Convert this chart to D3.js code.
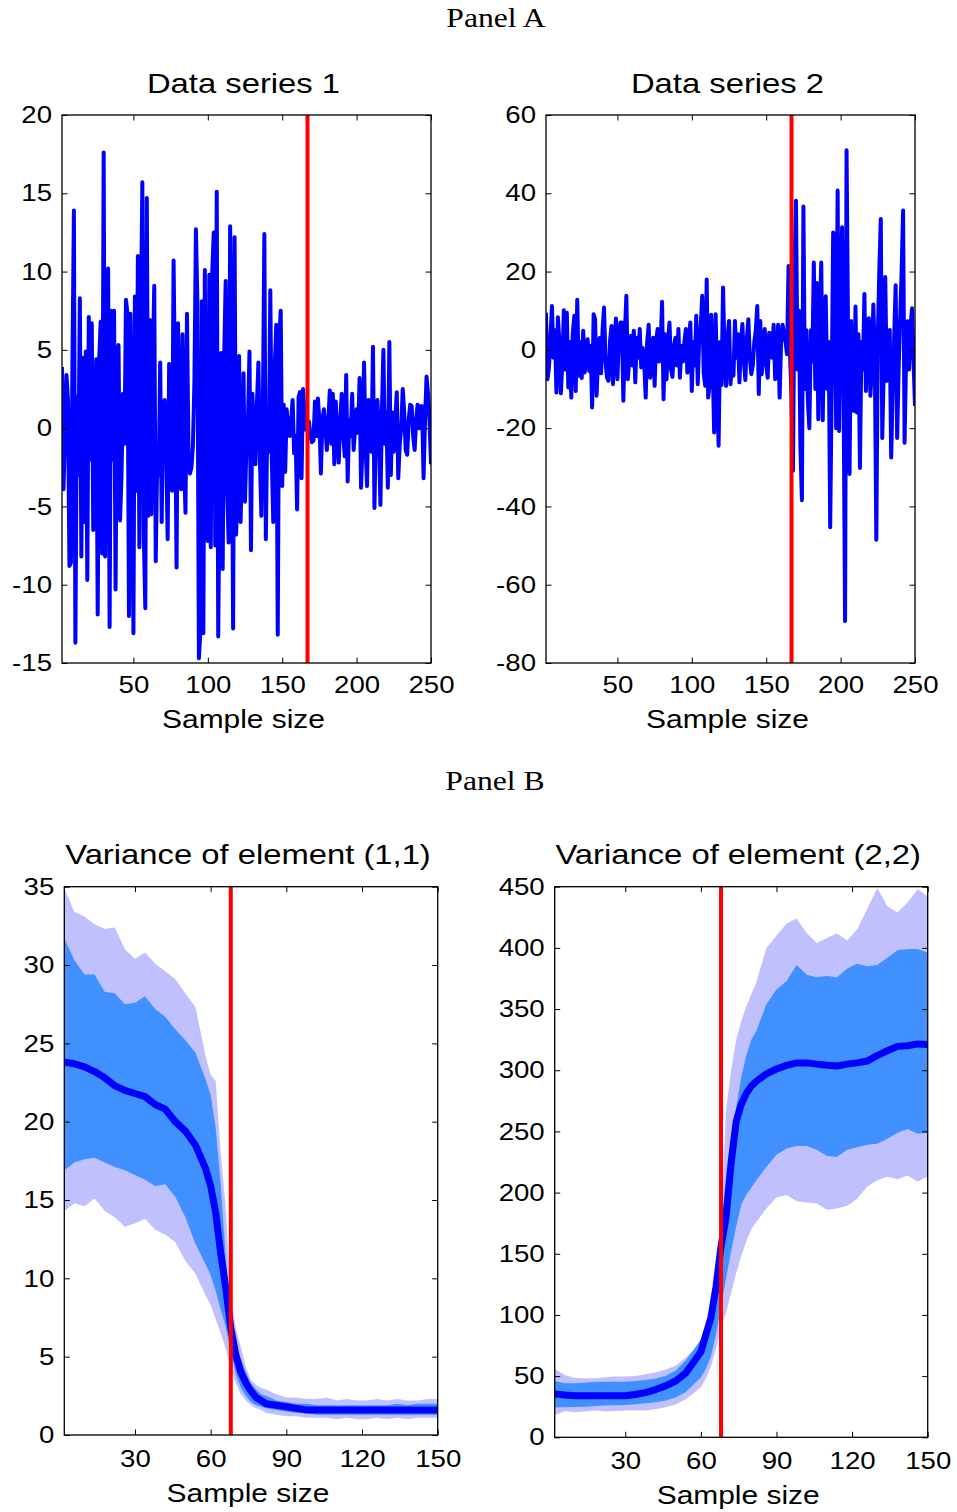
<!DOCTYPE html>
<html>
<head>
<meta charset="utf-8">
<script src="https://cdnjs.cloudflare.com/ajax/libs/d3/7.8.5/d3.min.js"></script>
<style>
  body { margin: 0; background: #fff; }
  text { font-family: "Liberation Sans", Arial, Helvetica, sans-serif; fill: #000; }
</style>
</head>
<body>
<div id="chart-area"></div>
<script>

var width = 957,
    height = 1512;

// ---- DATA ----

// Panel A: samples 2..250
var sampleStart = 2;
var series1 = [
  3.9, -3.9, -0.5, 3.4, 1.8, -8.8, -8.6, 4.0, 13.9, -13.7,
  2.0, -3.0, 8.3, -8.2, 4.5, -6.0, 4.9, -9.7, 7.1, -2.0,
  6.7, -6.5, -1.5, 4.4, -11.9, 4.4, 6.8, -8.0, 17.6, -8.2,
  7.5, 10.2, -12.7, 7.5, -2.0, 7.5, -10.3, 5.0, 5.3, -5.9,
  -3.0, 2.2, -1.0, 8.2, 7.3, -12.0, 7.3, -1.0, -13.1, 8.4,
  -4.0, 11.0, -7.6, 6.7, 15.7, -7.0, -11.5, 14.7, -5.6, 6.9,
  -5.5, 4.0, 9.1, -8.5, -2.0, -3.0, 4.2, -6.0, 1.0, 1.8,
  -1.0, -7.1, 4.1, -3.0, -4.0, 10.7, 2.0, -8.9, 6.7, -1.0,
  -3.9, 6.0, -2.0, -5.4, 7.3, -1.5, -2.9, -2.5, -1.1, 3.0,
  12.7, 8.1, -14.7, -13.0, 8.1, -13.1, 10.1, -7.0, -7.2, 9.8,
  -7.6, 10.0, 12.5, -7.5, 15.1, -13.3, -2.0, 4.8, -9.0, 4.6,
  9.4, -4.0, -7.3, 12.9, 4.6, -12.8, 12.2, -6.8, -4.0, 4.6,
  -6.0, -2.2, 3.5, -4.7, -1.0, 0.5, 4.9, -7.8, 2.2, -1.0,
  -2.3, 1.5, 4.2, -2.0, -5.6, 1.0, 12.4, -7.1, 0.5, -1.5,
  8.8, -2.0, -6.0, 4.0, 6.6, -13.2, 5.5, 7.5, -3.7, 1.5,
  -2.8, 1.2, 0.0, -0.5, 0.5, 1.8, -1.6, -0.5, -5.2, 2.0,
  2.3, -3.2, 2.5, 1.0, -0.1, 0.5, 0.4, -0.5, -0.9, -0.8,
  1.7, -0.5, 1.9, 0.5, -2.9, 0.5, 1.2, 0.0, -1.4, 0.5,
  2.4, -1.0, 2.2, -2.3, 1.7, -0.5, -2.2, 0.5, 2.2, -0.3,
  -1.8, 3.4, -3.4, 0.5, -0.5, 2.2, -1.4, 0.0, 1.2, -0.3,
  3.2, -3.8, -1.0, 4.2, -1.0, -3.7, 1.8, 0.0, -1.5, 5.2,
  -5.1, 0.5, 1.8, -0.5, -4.9, 1.0, 5.0, -1.0, 1.0, -3.8,
  5.5, -3.0, 1.0, -1.5, 0.5, 2.3, -3.2, -1.0, 0.0, 2.5,
  1.0, -1.4, -1.7, 0.5, 1.5, 1.4, -0.5, -1.4, 0.5, 1.5,
  0.0, 1.4, 1.4, -3.2, 0.5, 3.3, 2.2, 0.5, -2.3
];
var series2 = [
  9.5, -7.5, -4.5, 3.0, 11.2, -2.0, 5.0, -10.9, 8.3, 2.0,
  -11.1, -3.0, 10.1, -5.0, 9.5, -9.6, 2.0, -12.2, 4.0, 8.7,
  -10.5, 12.8, -6.6, 2.0, -7.2, 4.9, -5.8, -2.0, 2.7, -5.4,
  1.0, -14.7, 9.1, 7.8, -11.7, -2.0, 3.0, -6.0, 5.0, 10.8,
  -3.0, -7.1, -7.9, 2.0, 6.1, -8.8, 2.0, 8.0, -7.5, 3.0,
  7.0, 7.0, -13.0, 4.0, 13.8, -7.5, -2.0, 3.6, -4.0, 4.9,
  -8.3, 3.1, -2.0, 5.3, -4.5, 0.5, -3.0, -12.2, 2.0, 6.4,
  -7.1, 1.0, 3.1, -9.2, 2.0, 5.3, -3.0, 1.0, 12.3, -12.6,
  4.0, -7.5, 2.0, 7.0, -4.9, -6.9, 1.0, 3.1, -4.0, 5.3,
  -7.1, 1.0, -3.0, 2.0, 5.3, -5.8, 2.0, 7.0, -10.5, 2.0,
  -4.0, 8.7, -8.8, 3.0, 6.0, 13.8, -6.0, -9.2, 18.0, -12.2,
  -8.8, 9.0, -3.0, -21.1, 9.1, -8.0, -24.5, 2.0, -9.0, 15.9,
  -2.0, -9.2, 3.0, 7.4, -8.8, -3.0, -6.6, 7.4, -2.0, 4.0,
  -8.3, 2.0, 6.6, -3.0, -7.7, 3.0, 7.8, -2.0, -6.2, -4.0,
  2.0, 5.0, 11.2, -11.3, 7.4, -6.2, 1.0, 5.3, -4.0, -7.1,
  4.4, 4.0, -2.0, 6.4, -7.5, -3.0, 6.4, -12.2, 1.9, 6.4,
  4.0, 2.0, -1.1, 21.4, -1.0, -12.0, -30.9, 20.0, 38.1, -5.0,
  10.0, -25.0, -38.4, 36.6, -10.0, 5.0, -13.0, -20.0, 5.0, -3.0,
  22.3, -10.0, 17.1, -17.7, 8.0, 22.3, -18.0, 6.0, 13.7, -10.0,
  2.0, -45.3, -10.0, 30.0, 29.5, -20.0, 40.7, -20.7, 10.0, 31.3,
  -10.0, -69.3, 51.0, 5.0, -31.7, 7.4, -5.0, -15.6, 11.1, -16.0,
  4.0, -30.2, 2.0, -5.0, 14.3, -10.5, 3.0, 8.1, -11.7, -5.0,
  11.6, -2.0, -48.5, 3.0, 20.0, 33.4, -22.5, -5.0, 18.6, -7.9,
  2.0, 5.1, -27.5, -10.0, 3.0, 16.5, -22.5, -5.0, 7.8, 20.0,
  35.6, -23.7, -2.0, 7.3, -5.0, 6.0, 10.6, -2.8, -14.3
];
var breakA = 167;
var xTicksA = [50, 100, 150, 200, 250];
var yTicksA1 = [-15, -10, -5, 0, 5, 10, 15, 20];
var yTicksA2 = [-80, -60, -40, -20, 0, 20, 40, 60];

// Panel B: bands at these sample sizes
var varX = [2, 6, 10, 14, 18, 22, 26, 30, 34, 38, 42, 46, 50, 54,
  58, 60, 62, 64, 66, 68, 70, 72, 74, 76, 78, 80, 82,
  86, 90, 94, 98, 102, 106, 110, 114, 118, 122, 126, 130, 134, 138, 142, 146, 150];

var outerHi1 = [34.9, 33.4, 33.1, 32.6, 32.3, 32.4, 31.0, 30.4, 30.8, 30.1, 29.6, 29.1, 28.2, 27.3,
  24.2, 23.0, 22.6, 18.0, 14.5, 8.8, 6.8, 5.6, 4.3, 3.5, 3.2, 3.0, 2.9,
  2.6, 2.4, 2.4, 2.3, 2.3, 2.4, 2.2, 2.3, 2.2, 2.2, 2.3, 2.2, 2.3, 2.2, 2.2, 2.3, 2.3];
var innerHi1 = [31.7, 30.3, 29.4, 29.4, 28.3, 28.2, 27.5, 27.6, 28.0, 27.2, 26.7, 25.9, 25.2, 24.4,
  22.7, 21.7, 19.6, 16.0, 11.3, 7.2, 5.8, 4.8, 4.0, 3.3, 2.9, 2.6, 2.5,
  2.2, 2.1, 2.0, 2.0, 1.9, 1.9, 1.9, 1.9, 1.9, 1.9, 1.9, 1.9, 2.0, 1.9, 2.0, 2.0, 2.0];
var median1 = [23.8, 23.7, 23.5, 23.2, 22.8, 22.3, 22.0, 21.8, 21.6, 21.1, 20.8, 20.0, 19.4, 18.5,
  17.0, 15.9, 14.2, 11.6, 9.4, 6.8, 5.1, 4.0, 3.3, 2.8, 2.4, 2.2, 2.0,
  1.9, 1.8, 1.7, 1.6, 1.6, 1.6, 1.6, 1.6, 1.6, 1.6, 1.6, 1.6, 1.6, 1.6, 1.6, 1.6, 1.6];
var innerLo1 = [16.9, 17.4, 17.6, 17.7, 17.4, 17.1, 16.9, 16.6, 16.3, 15.9, 16.0, 15.2, 13.9, 12.2,
  10.9, 10.2, 9.2, 8.0, 6.9, 5.3, 3.9, 3.0, 2.5, 2.1, 1.9, 1.8, 1.7,
  1.6, 1.5, 1.4, 1.4, 1.3, 1.3, 1.3, 1.3, 1.3, 1.3, 1.3, 1.3, 1.3, 1.3, 1.3, 1.3, 1.3];
var outerLo1 = [14.3, 14.8, 14.6, 15.1, 14.3, 13.9, 13.3, 13.5, 13.8, 13.1, 12.8, 12.3, 11.1, 10.3,
  8.9, 8.3, 7.4, 6.5, 5.5, 4.2, 3.3, 2.6, 2.2, 1.9, 1.7, 1.6, 1.4,
  1.3, 1.2, 1.2, 1.1, 1.1, 1.1, 1.0, 1.1, 1.0, 1.0, 1.1, 1.0, 1.1, 1.0, 1.1, 1.1, 1.1];

var outerHi2 = [56, 51, 48.5, 48.3, 48.3, 49, 49.7, 49.7, 50, 51.5, 53, 55.5, 58.5, 65,
  73, 78, 88, 100, 133, 180, 268, 300, 325, 340, 352, 362, 372,
  400, 410, 420, 424, 412, 404, 408, 412, 406, 415, 432, 449, 434, 429, 437, 448, 442];
var innerHi2 = [46, 44.2, 44.2, 44.5, 45.5, 45.5, 45.5, 45.5, 46, 46.9, 48, 50, 54.5, 63,
  74, 80, 92, 105, 128, 170, 215, 247, 270, 294, 312, 325, 332,
  354, 366, 373, 386, 378, 376, 377, 376, 383, 387, 385, 386, 392, 398, 399, 399, 396];
var median2 = [35.5, 34.5, 34, 34, 34, 34, 34, 34, 35, 36.5, 39, 42, 46, 52.5,
  64, 70, 84, 98, 123, 156, 180, 224, 258, 272, 281, 287, 291,
  297, 301, 304, 306, 306, 305, 304, 303.5, 305, 306, 307.5, 312, 316, 319.5, 320, 321.5, 321];
var innerLo2 = [24.6, 24.6, 24.8, 25, 25.5, 26, 26.2, 26.5, 27, 27.8, 28.6, 30, 32.5, 37,
  45, 49, 56, 66, 84, 107, 130, 152, 172, 190, 198, 204, 210,
  221, 231, 236, 238, 238, 235, 230, 229, 235, 237, 239, 240, 244, 249, 252, 248, 249];
var outerLo2 = [18, 21.5, 20.5, 21, 22, 21, 21.5, 22, 22, 22, 23, 24.6, 26.8, 31,
  37.5, 41, 48, 58, 72, 90, 102, 118, 134, 148, 160, 170, 176,
  187, 196, 198, 193, 192, 191, 186, 187, 189, 195, 205, 210, 213, 211, 214, 209, 213];

var breakB = 68;
var xTicksB = [30, 60, 90, 120, 150];
var yTicksB1 = [0, 5, 10, 15, 20, 25, 30, 35];
var yTicksB2 = [0, 50, 100, 150, 200, 250, 300, 350, 400, 450];

// ---- DRAWING ----

var tickLen = 5.5;
var plainNum = function(d) { return String(d); };   // ascii hyphen for negatives

var svg = d3.select("#chart-area").append("svg")
    .attr("width", width)
    .attr("height", height);

// draws the box, the inward ticks on all four sides and the labels
function drawFrame(g, x, y, box, xTicks, yTicks, xPad, title, titleY) {
  g.append("g")
      .attr("transform", "translate(0," + box.y1 + ")")
      .call(d3.axisBottom(x).tickValues(xTicks).tickSize(-tickLen).tickPadding(xPad).tickFormat(plainNum))
      .call(styleAxis);
  g.append("g")
      .attr("transform", "translate(0," + box.y0 + ")")
      .call(d3.axisTop(x).tickValues(xTicks).tickSize(-tickLen).tickFormat(""))
      .call(styleAxis);
  g.append("g")
      .attr("transform", "translate(" + box.x0 + ",0)")
      .call(d3.axisLeft(y).tickValues(yTicks).tickSize(-tickLen).tickPadding(10).tickFormat(plainNum))
      .call(styleAxis);
  g.append("g")
      .attr("transform", "translate(" + box.x1 + ",0)")
      .call(d3.axisRight(y).tickValues(yTicks).tickSize(-tickLen).tickFormat(""))
      .call(styleAxis);

  g.append("rect")
      .attr("x", box.x0).attr("y", box.y0)
      .attr("width", box.x1 - box.x0).attr("height", box.y1 - box.y0)
      .style("fill", "none").style("stroke", "#000").style("stroke-width", 1.3);

  var cx = (box.x0 + box.x1) / 2 - 3;
  g.append("text")
      .attr("class", "title")
      .attr("x", cx).attr("y", titleY)
      .attr("text-anchor", "middle")
      .style("font-size", "28.5px")
      .text(title);
  g.append("text")
      .attr("class", "xlabel")
      .attr("x", cx).attr("y", box.y1 + xPad + 52)
      .attr("text-anchor", "middle")
      .style("font-size", "26px")
      .text("Sample size");
}

function styleAxis(sel) {
  sel.select(".domain").remove();
  sel.selectAll("line").style("stroke", "#000").style("stroke-width", 1);
  sel.selectAll("text").style("font-size", "24px")
      .style("font-family", "'Liberation Sans', Arial, sans-serif").style("fill", "#000");
}

function drawRedLine(g, x, box, at) {
  g.append("line")
      .attr("x1", x(at)).attr("x2", x(at))
      .attr("y1", box.y0).attr("y2", box.y1)
      .style("stroke", "#ff0000")
      .style("stroke-width", 4);
}

// PANEL A: noisy data series
function drawSeries(id, values, yDomain, yTicks, title, box) {
  var g = svg.append("g");
  var x = d3.scaleLinear().domain([sampleStart, 250]).range([box.x0, box.x1]);
  var y = d3.scaleLinear().domain(yDomain).range([box.y1, box.y0]);

  g.append("clipPath").attr("id", id)
    .append("rect")
      .attr("x", box.x0).attr("y", box.y0)
      .attr("width", box.x1 - box.x0).attr("height", box.y1 - box.y0);

  var line = d3.line()
      .x(function(d, i) { return x(i + sampleStart); })
      .y(function(d) { return y(d); });

  g.append("path")
      .datum(values)
      .attr("clip-path", "url(#" + id + ")")
      .attr("d", line)
      .style("fill", "none")
      .style("stroke", "#0000ff")
      .style("stroke-width", 4)
      .style("stroke-linejoin", "round");

  drawRedLine(g, x, box, breakA);
  drawFrame(g, x, y, box, xTicksA, yTicks, 13, title, 93);
}

// PANEL B: variance bands
function drawVariance(bands, yDomain, yTicks, title, box) {
  var g = svg.append("g");
  var x = d3.scaleLinear().domain([2, 150]).range([box.x0, box.x1]);
  var y = d3.scaleLinear().domain(yDomain).range([box.y1, box.y0]);

  var rows = varX.map(function(s, i) {
    return { s: s, oh: bands[0][i], ih: bands[1][i], m: bands[2][i], il: bands[3][i], ol: bands[4][i] };
  });

  var outer = d3.area().x(function(d) { return x(d.s); })
      .y0(function(d) { return y(d.ol); }).y1(function(d) { return y(d.oh); });
  var inner = d3.area().x(function(d) { return x(d.s); })
      .y0(function(d) { return y(d.il); }).y1(function(d) { return y(d.ih); });
  var mid = d3.line().x(function(d) { return x(d.s); }).y(function(d) { return y(d.m); });

  g.append("path").datum(rows).attr("d", outer).style("fill", "#c0c0ff");
  g.append("path").datum(rows).attr("d", inner).style("fill", "#4190ff");
  g.append("path").datum(rows).attr("d", mid)
      .style("fill", "none").style("stroke", "#0000ff").style("stroke-width", 7)
      .style("stroke-linejoin", "round");

  drawRedLine(g, x, box, breakB);
  drawFrame(g, x, y, box, xTicksB, yTicks, 15, title, 864);
}

drawSeries("clipA1", series1, [-15, 20], yTicksA1, "Data series 1", { x0: 62, x1: 431, y0: 115, y1: 663 });
drawSeries("clipA2", series2, [-80, 60], yTicksA2, "Data series 2", { x0: 546, x1: 915, y0: 115, y1: 663 });

drawVariance([outerHi1, innerHi1, median1, innerLo1, outerLo1], [0, 35], yTicksB1,
  "Variance of element (1,1)", { x0: 64.3, x1: 437.7, y0: 886.7, y1: 1435 });
drawVariance([outerHi2, innerHi2, median2, innerLo2, outerLo2], [0, 450], yTicksB2,
  "Variance of element (2,2)", { x0: 554.7, x1: 927.7, y0: 886.7, y1: 1437.3 });

// panel headings
svg.append("text").attr("x", 496).attr("y", 27).attr("text-anchor", "middle")
    .style("font-family", "'Liberation Serif', 'Times New Roman', serif").style("font-size", "27.5px")
    .text("Panel A");
svg.append("text").attr("x", 495).attr("y", 790).attr("text-anchor", "middle")
    .style("font-family", "'Liberation Serif', 'Times New Roman', serif").style("font-size", "27.5px")
    .text("Panel B");

// the source figure is a bit wider than tall, stretch the glyphs the same way
svg.selectAll("text").each(function() {
  var w = this.getComputedTextLength();
  if (w > 0) {
    d3.select(this).attr("textLength", w * 1.15).attr("lengthAdjust", "spacingAndGlyphs");
  }
});

</script>
</body>
</html>
